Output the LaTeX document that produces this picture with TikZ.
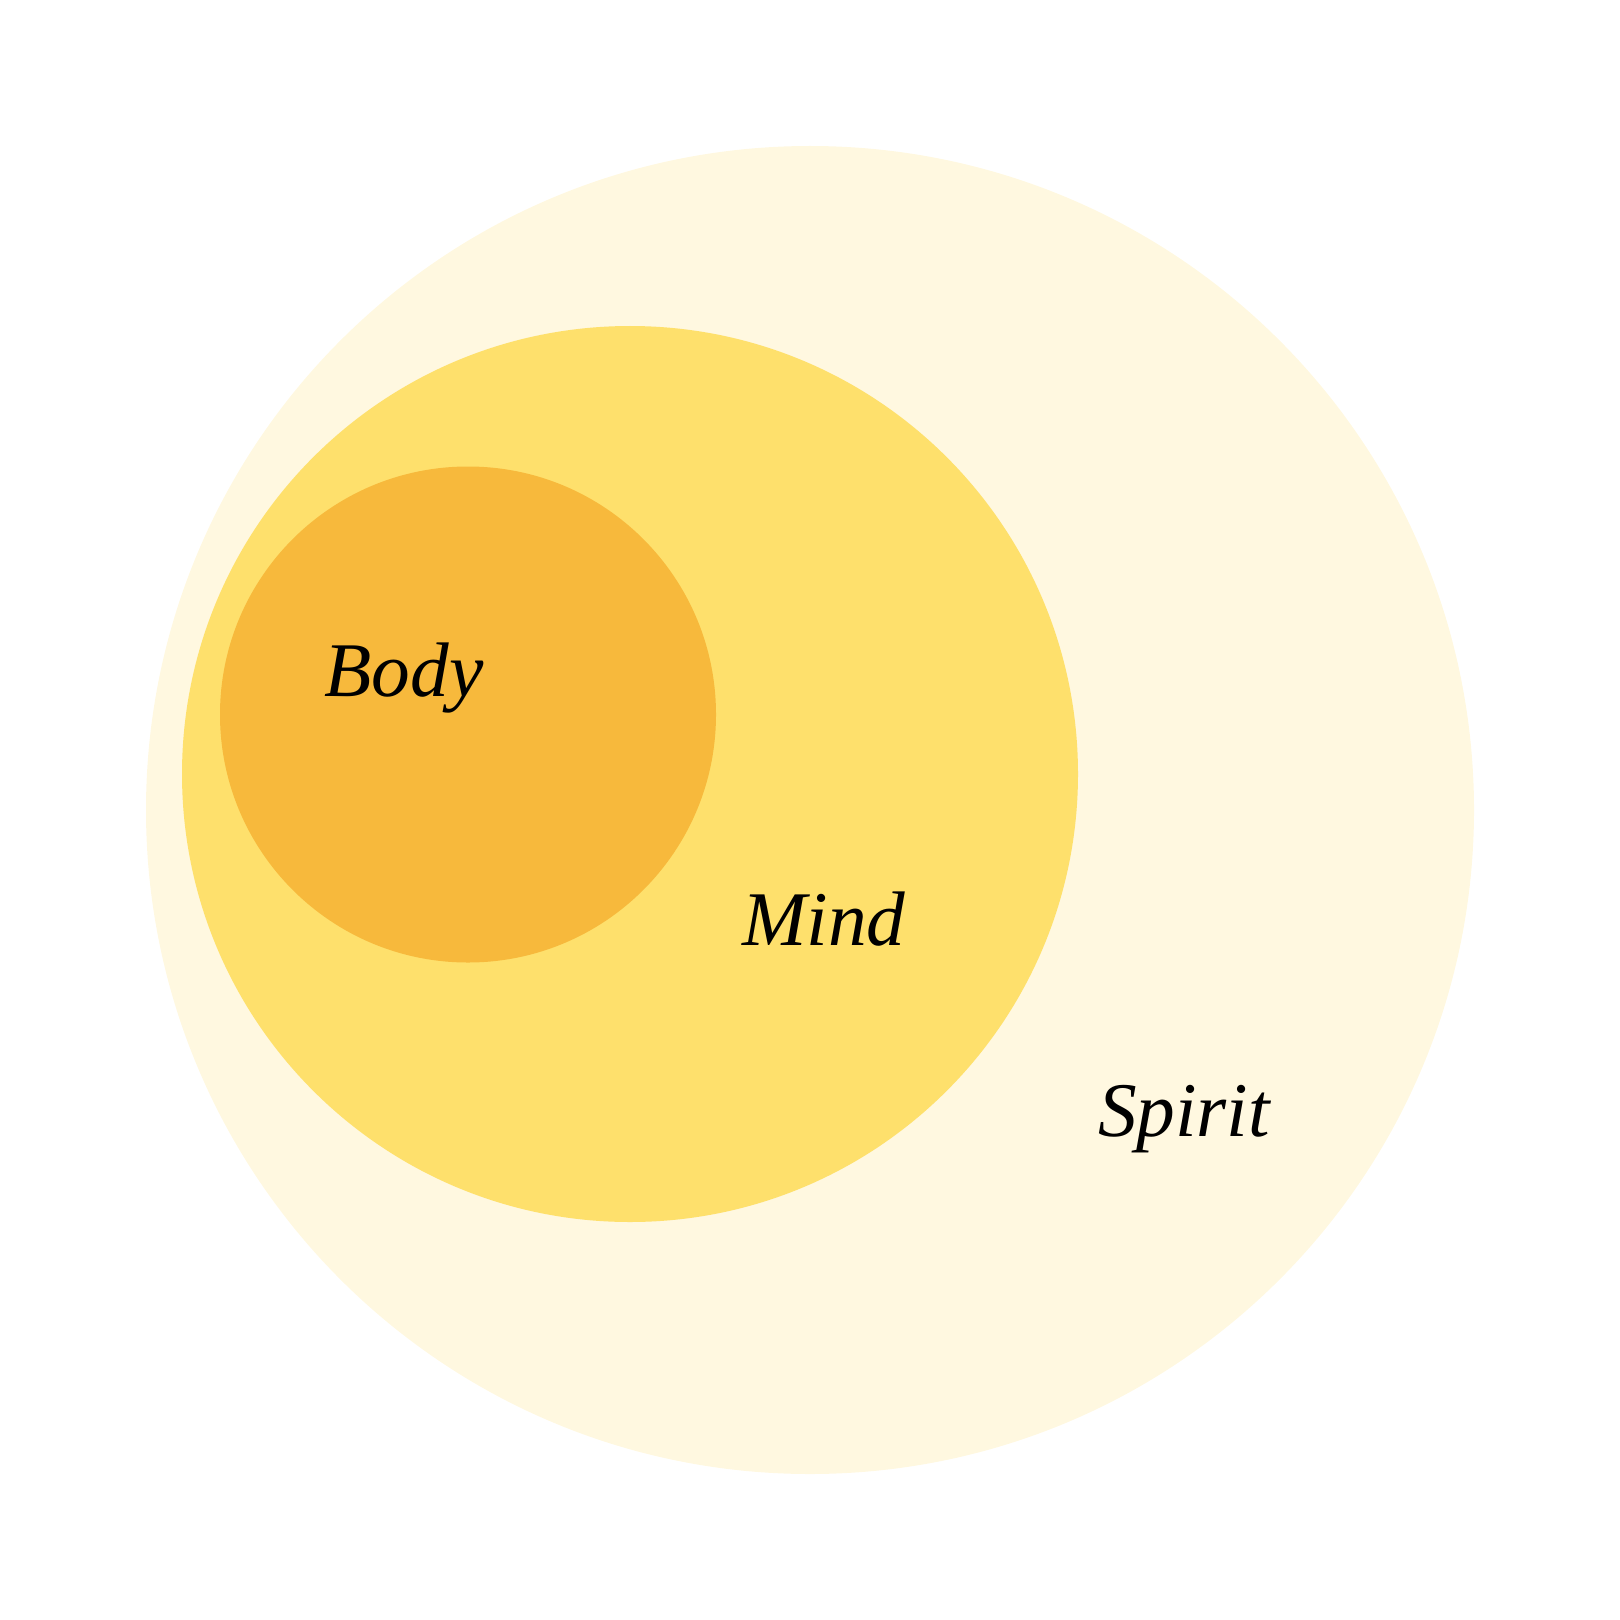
\documentclass[tikz,border=0pt]{standalone}
\usepackage{fontspec}
\setmainfont{Liberation Serif}
\usepackage{tikz}
\usetikzlibrary{positioning}

\definecolor{spiritcol}{HTML}{FFF8E0}
\definecolor{mindcol}{HTML}{FEE06C}
\definecolor{bodycol}{HTML}{F7B93C}

\tikzset{
  blob/.style={circle, inner sep=0pt, outer sep=0pt, draw=none},
  word/.style={anchor=base, inner sep=0pt, font=\fontsize{22}{26}\selectfont\itshape}
}

\begin{document}
\begin{tikzpicture}
\useasboundingbox (0,0) rectangle (16.2,-16.2);

\node(S)[blob, fill=spiritcol, minimum size=13.28cm] at (8.10,-8.10) {};
\node(M)[blob, fill=mindcol, minimum size=8.96cm] at (6.30,-7.74) {};
\node(B)[blob, fill=bodycol, minimum size=4.96cm] at (4.68,-7.145) {};

\node(b)[word] at (4.04,-6.96) {Body};
\node(m)[word] at (8.24,-9.45) {Mind};
\node(s)[word] at (11.84,-11.36) {Spirit};
\end{tikzpicture}
\end{document}
